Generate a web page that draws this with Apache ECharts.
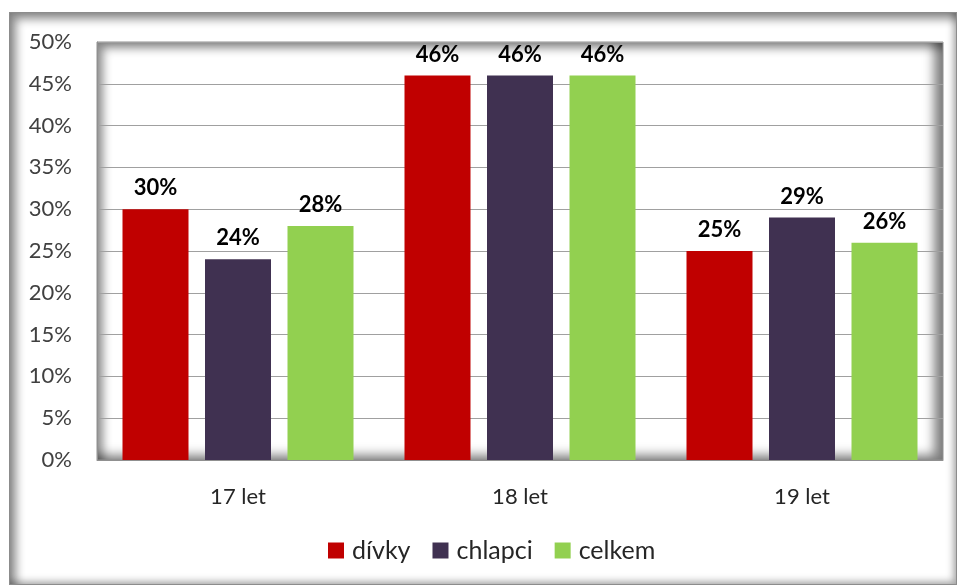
<!DOCTYPE html>
<html>
<head>
<meta charset="utf-8">
<script src="https://cdn.jsdelivr.net/npm/echarts@6/dist/echarts.min.js"></script>
<style>
  * { margin: 0; padding: 0; }
  body { width: 960px; height: 586px; background: #fff; position: relative; overflow: hidden; }
  .frame {
    position: absolute; left: 9px; top: 12px; width: 946px; height: 571px;
    border: 1px solid #8c8c8c;
    box-shadow: inset 6px 6px 10px rgba(0,0,0,0.45), inset -3px -3px 7px rgba(0,0,0,0.3);
  }
  .plotbg {
    position: absolute; left: 97px; top: 42px; width: 846px; height: 418px;
    box-shadow: inset 6px 6px 10px rgba(0,0,0,0.45), inset -9px -5px 11px rgba(0,0,0,0.5);
  }
  #chart { position: absolute; left: 0; top: 0; width: 960px; height: 586px; }
</style>
</head>
<body>
<div class="frame"></div>
<div class="plotbg"></div>
<div id="chart"></div>
<script>
  var categories = ['17 let', '18 let', '19 let'];
  var divky = [30, 46, 25];
  var chlapci = [24, 46, 29];
  var celkem = [28, 46, 26];
  var yTicks = [0, 5, 10, 15, 20, 25, 30, 35, 40, 45, 50];

  var fontFam = 'Lato, "Open Sans", sans-serif';

  function barSeries(name, data, color) {
    return {
      name: name,
      type: 'bar',
      data: data,
      barWidth: 66,
      barGap: '25%',
      itemStyle: { color: color },
      label: {
        show: true,
        position: 'top',
        distance: 10,
        formatter: '{c}%',
        fontFamily: fontFam,
        fontWeight: 'bold',
        fontSize: 22,
        color: '#000'
      }
    };
  }

  var myChart = echarts.init(document.getElementById('chart'), null, { renderer: 'canvas' });
  myChart.setOption({
    backgroundColor: 'transparent',
    animation: false,
    textStyle: { fontFamily: fontFam },
    grid: {
      left: 97, right: 17, top: 42, bottom: 126,
      show: true, borderColor: '#909090', borderWidth: 1
    },
    legend: {
      bottom: 18,
      left: 323,
      itemWidth: 16,
      itemHeight: 16,
      itemGap: 22,
      icon: 'rect',
      textStyle: { fontSize: 25, color: '#262626', fontFamily: fontFam, padding: [0, 0, 0, 3] },
      data: ['dívky', 'chlapci', 'celkem']
    },
    xAxis: {
      type: 'category',
      data: categories,
      axisTick: { show: false },
      axisLine: { lineStyle: { color: '#909090' } },
      axisLabel: { fontSize: 22, color: '#262626', margin: 26 }
    },
    yAxis: {
      type: 'value',
      min: yTicks[0],
      max: yTicks[yTicks.length - 1],
      interval: 5,
      axisLine: { show: true, lineStyle: { color: '#909090' } },
      axisTick: { show: false },
      splitLine: { lineStyle: { color: '#a0a0a0' } },
      axisLabel: { fontSize: 22, color: '#404040', margin: 25, formatter: '{value}%' }
    },
    series: [
      barSeries('dívky', divky, '#C00000'),
      barSeries('chlapci', chlapci, '#403151'),
      barSeries('celkem', celkem, '#92D050')
    ]
  });
</script>
</body>
</html>
